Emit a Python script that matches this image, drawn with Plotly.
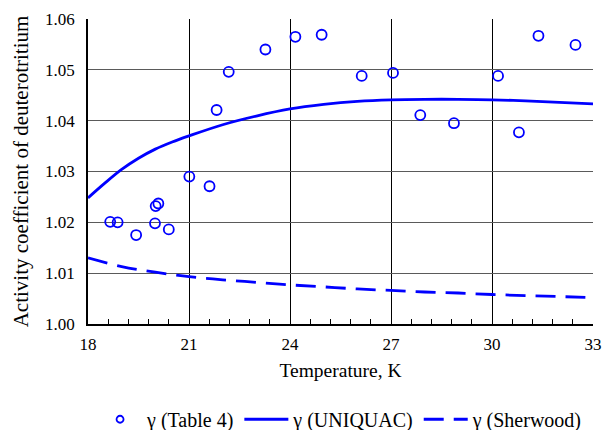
import plotly.graph_objects as go

# Measured activity coefficients (Table 4)
t_table = [18.66, 18.88, 19.43, 19.99, 20.01, 20.09, 20.40, 21.01, 21.61, 21.82, 22.18,
           23.27, 24.16, 24.94, 26.13, 27.06, 27.87, 28.87, 30.18, 30.80, 31.38, 32.48]
g_table = [1.0201, 1.0200, 1.0175, 1.0198, 1.0232, 1.0237, 1.0186, 1.0290, 1.0271, 1.0421, 1.0496,
           1.0540, 1.0565, 1.0569, 1.0488, 1.0494, 1.0411, 1.0395, 1.0488, 1.0377, 1.0567, 1.0549]

# UNIQUAC model curve
t_uniquac = [18.0, 18.5, 19.0, 19.5, 20.0, 20.5, 21.0, 22.0, 23.0, 24.0, 25.0, 26.0,
             27.0, 28.0, 29.0, 30.0, 31.0, 32.0, 33.0]
g_uniquac = [1.0248, 1.0277, 1.0304, 1.0326, 1.0344, 1.0358, 1.0370, 1.0392, 1.0409, 1.0423,
             1.0432, 1.0438, 1.0441, 1.0442, 1.0442, 1.0441, 1.0439, 1.0436, 1.0433]

# Sherwood correlation curve
t_sherwood = [18.0, 19.0, 20.0, 21.0, 22.0, 23.0, 24.0, 25.0, 26.0, 27.0, 28.0, 29.0,
              30.0, 31.0, 32.0, 33.0]
g_sherwood = [1.0130, 1.0113, 1.0102, 1.0093, 1.0087, 1.0082, 1.0077, 1.0073, 1.0069, 1.0066,
              1.0063, 1.0061, 1.0058, 1.0056, 1.0054, 1.0052]

x_ticks = [18, 21, 24, 27, 30, 33]
y_ticks = [1.00, 1.01, 1.02, 1.03, 1.04, 1.05, 1.06]

BLUE = "#0000FF"
FONT = "Times New Roman, Liberation Serif, serif"
TICK_FS = 17
XTITLE_FS = 19.5
YTITLE_FS = 21
LEGEND_FS = 20

fig = go.Figure()
# data points (legend entry drawn separately with a smaller symbol)
fig.add_trace(go.Scatter(
    x=t_table, y=g_table, mode="markers", name="γ (Table 4)", showlegend=False,
    legendgroup="table",
    marker=dict(symbol="circle-open", size=10, color=BLUE, line=dict(width=1.8, color=BLUE)),
))
fig.add_trace(go.Scatter(
    x=[None], y=[None], mode="markers", name="γ (Table 4)", legendgroup="table",
    marker=dict(symbol="circle-open", size=7, color=BLUE, line=dict(width=1.8, color=BLUE)),
))
fig.add_trace(go.Scatter(
    x=t_uniquac, y=g_uniquac, mode="lines", name="γ (UNIQUAC)",
    line=dict(color=BLUE, width=2.8, shape="spline"),
))
fig.add_trace(go.Scatter(
    x=t_sherwood, y=g_sherwood, mode="lines", name="γ (Sherwood)",
    line=dict(color=BLUE, width=2.8, shape="spline", dash="20px,10px"),
))

fig.update_layout(
    width=604, height=430,
    margin=dict(l=88, r=11, t=19, b=106, autoexpand=False),
    paper_bgcolor="white", plot_bgcolor="white",
    font=dict(family=FONT, size=TICK_FS, color="black"),
    showlegend=True,
    legend=dict(orientation="h", xref="container", yref="container",
                x=0.563, xanchor="center", y=0.025, yanchor="middle",
                font=dict(family=FONT, size=LEGEND_FS), itemwidth=44, tracegroupgap=0),
)
fig.update_xaxes(
    range=[18, 33], tickvals=x_ticks, ticktext=[str(v) for v in x_ticks],
    showline=True, linecolor="black", linewidth=1.5, mirror=False,
    showgrid=True, gridcolor="black", gridwidth=1,
    ticks="inside", ticklen=5, tickcolor="black", ticklabelstandoff=4,
    tickfont=dict(family=FONT, size=TICK_FS),
    minor=dict(dtick=0.6, tick0=18, ticks="inside", ticklen=5, tickcolor="black", showgrid=False),
    title=dict(text="Temperature, K", font=dict(family=FONT, size=XTITLE_FS), standoff=10),
    zeroline=False, automargin=False,
)
fig.update_yaxes(
    range=[1.00, 1.06], tickvals=y_ticks, ticktext=[f"{v:.2f}" for v in y_ticks],
    showline=True, linecolor="black", linewidth=1.5, mirror=False,
    showgrid=True, gridcolor="#5a5a5a", gridwidth=1.3,
    ticks="", ticklabelstandoff=8,
    tickfont=dict(family=FONT, size=TICK_FS),
    title=dict(text="Activity coefficient of deuterotritium", font=dict(family=FONT, size=YTITLE_FS), standoff=11),
    zeroline=False, automargin=False,
)

fig.write_html("out.html")
